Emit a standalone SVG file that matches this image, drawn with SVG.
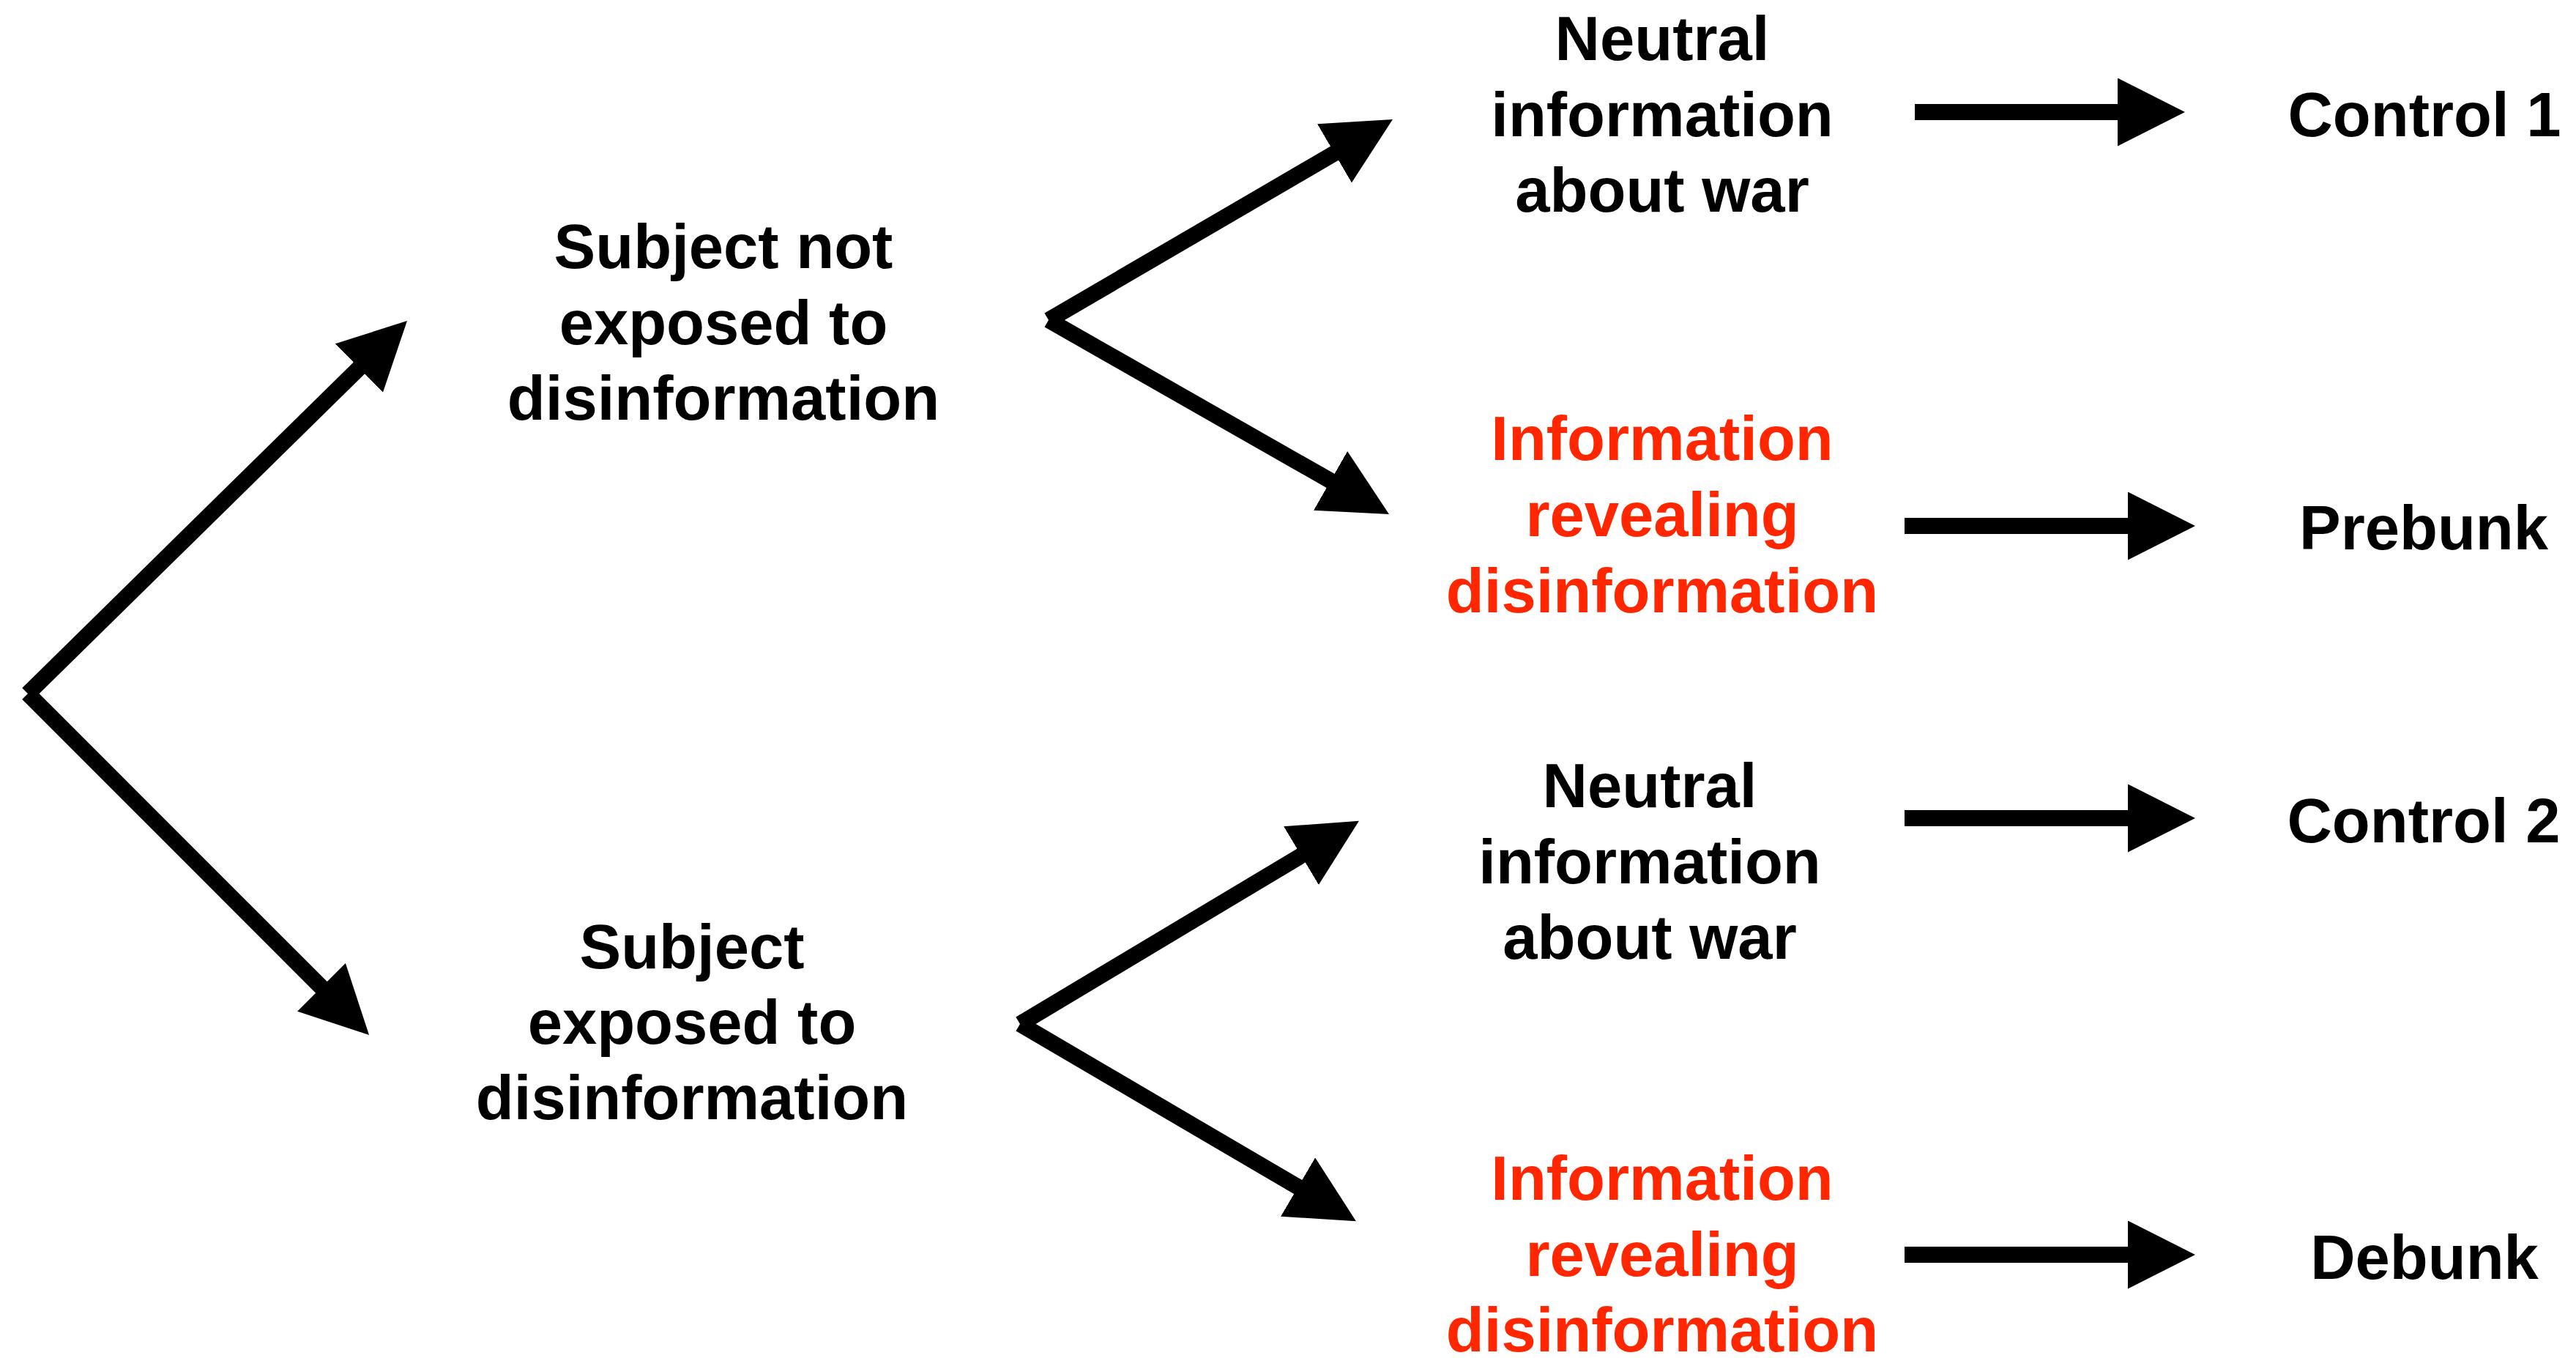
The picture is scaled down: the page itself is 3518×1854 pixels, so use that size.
<svg xmlns="http://www.w3.org/2000/svg" width="3518" height="1854" viewBox="0 0 3518 1854">
  <defs>
    <style>
      .lbl { font-family: "Liberation Sans", Arial, Helvetica, sans-serif; font-weight: bold; font-size: 85px; text-anchor: middle; fill: #000000; }
      .red { fill: #ff2600; }
      .conn { stroke: #000000; stroke-width: 22; fill: none; stroke-linecap: butt; marker-end: url(#head); }
    </style>
    <marker id="head" markerUnits="userSpaceOnUse" markerWidth="92" markerHeight="93" viewBox="0 0 92 93" refX="2" refY="46.5" orient="auto">
      <path d="M0,0 L92,46.5 L0,93 Z" fill="#000000"/>
    </marker>
  </defs>
  <rect x="0" y="0" width="3518" height="1854" fill="#ffffff"/>

  <g id="connectors">
    <line class="conn" x1="38" y1="947" x2="491.8" y2="501.1"/>
    <line class="conn" x1="38" y1="947" x2="440.4" y2="1349.4"/>
    <line class="conn" x1="1432" y1="437" x2="1824.2" y2="208.3"/>
    <line class="conn" x1="1432" y1="437" x2="1818.8" y2="657.4"/>
    <line class="conn" x1="1393" y1="1398" x2="1778.7" y2="1167.1"/>
    <line class="conn" x1="1393" y1="1398" x2="1774.3" y2="1621.6"/>
    <line class="conn" x1="2615" y1="153" x2="2894" y2="153"/>
    <line class="conn" x1="2601" y1="718" x2="2908" y2="718"/>
    <line class="conn" x1="2601" y1="1117" x2="2908" y2="1117"/>
    <line class="conn" x1="2601" y1="1713" x2="2908" y2="1713"/>
  </g>

  <g id="node-not-exposed">
    <text class="lbl" x="988" y="366">Subject not</text>
    <text class="lbl" x="988" y="470">exposed to</text>
    <text class="lbl" x="988" y="573">disinformation</text>
  </g>
  <g id="node-exposed">
    <text class="lbl" x="945" y="1322">Subject</text>
    <text class="lbl" x="945" y="1425">exposed to</text>
    <text class="lbl" x="945" y="1528">disinformation</text>
  </g>
  <g id="node-neutral-1">
    <text class="lbl" x="2270" y="82">Neutral</text>
    <text class="lbl" x="2270" y="186">information</text>
    <text class="lbl" x="2270" y="289">about war</text>
  </g>
  <g id="node-revealing-1">
    <text class="lbl red" x="2270" y="628">Information</text>
    <text class="lbl red" x="2270" y="732">revealing</text>
    <text class="lbl red" x="2270" y="836">disinformation</text>
  </g>
  <g id="node-neutral-2">
    <text class="lbl" x="2253" y="1102">Neutral</text>
    <text class="lbl" x="2253" y="1206">information</text>
    <text class="lbl" x="2253" y="1309">about war</text>
  </g>
  <g id="node-revealing-2">
    <text class="lbl red" x="2270" y="1638">Information</text>
    <text class="lbl red" x="2270" y="1742">revealing</text>
    <text class="lbl red" x="2270" y="1845">disinformation</text>
  </g>
  <g id="node-control-1">
    <text class="lbl" x="3311" y="186">Control 1</text>
  </g>
  <g id="node-prebunk">
    <text class="lbl" x="3310" y="750">Prebunk</text>
  </g>
  <g id="node-control-2">
    <text class="lbl" x="3310" y="1150">Control 2</text>
  </g>
  <g id="node-debunk">
    <text class="lbl" x="3311" y="1746">Debunk</text>
  </g>
</svg>
